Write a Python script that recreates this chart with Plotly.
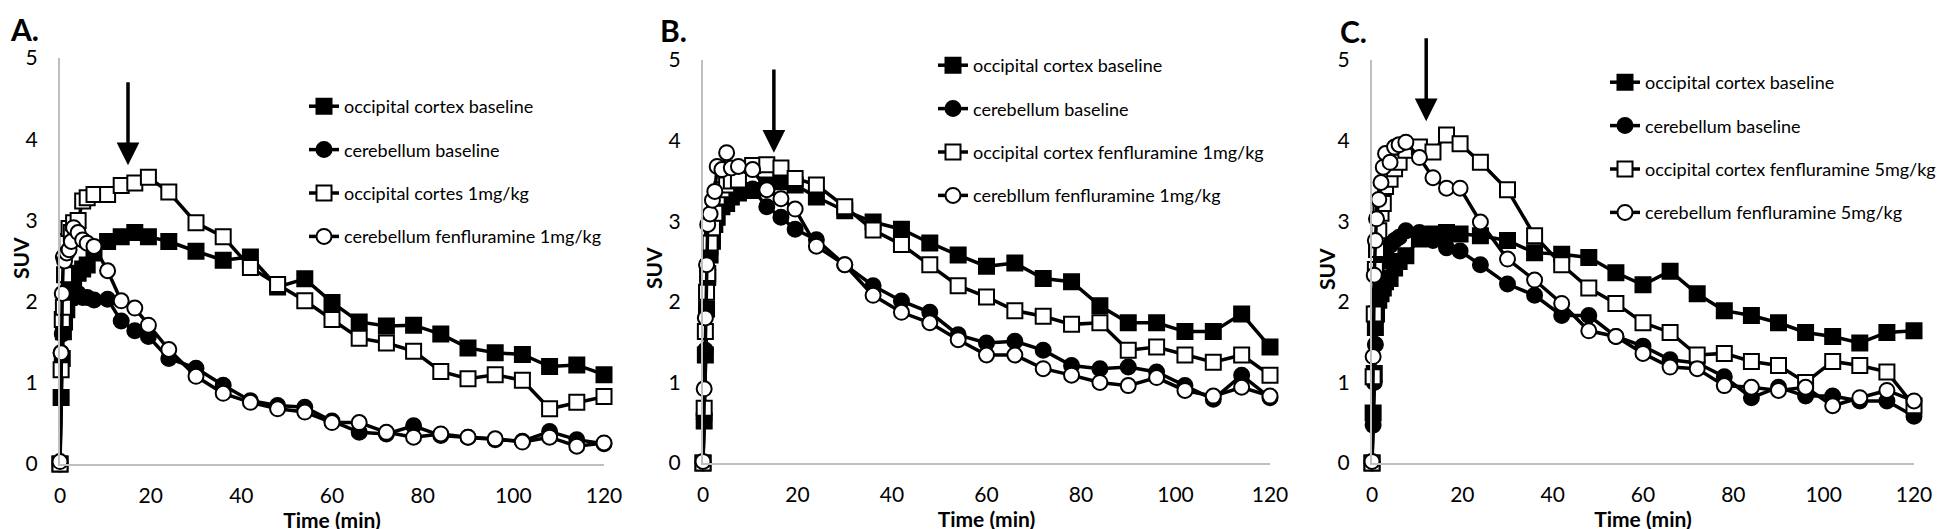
import plotly.graph_objects as go

# frame mid times (min), shared by all three panels
time_min = [0, 0.25, 0.5, 0.75, 1, 1.5, 2, 2.5, 3, 4, 5, 6, 7.5,
            10.5, 13.5, 16.5, 19.5,
            24, 30, 36, 42, 48, 54, 60, 66, 72, 78, 84, 90, 96, 102, 108, 114, 120]

# A. fenfluramine 1 mg/kg
a_occ_base = [0, 0.82, 1.3, 1.63, 1.75, 1.9, 2.05, 2.2, 2.2, 2.35, 2.4, 2.45, 2.6,
              2.74, 2.8, 2.85, 2.8,
              2.74, 2.62, 2.51, 2.55, 2.18, 2.28, 1.99, 1.75, 1.7, 1.71, 1.6, 1.43, 1.37, 1.35, 1.2, 1.22, 1.1]
a_cer_base = [0, 1.37, 1.6, 1.85, 2.0, 2.1, 2.15, 2.1, 2.05, 2.1, 2.05, 2.05, 2.02,
              2.03, 1.76, 1.64, 1.57,
              1.3, 1.18, 0.97, 0.78, 0.72, 0.7, 0.53, 0.39, 0.37, 0.47, 0.35, 0.33, 0.3, 0.28, 0.4, 0.3, 0.25]
a_occ_fen = [0, 1.16, 1.78, 1.93, 2.33, 2.74, 2.9, 2.85, 2.97, 3.0, 3.24, 3.28, 3.32,
             3.32, 3.43, 3.46, 3.53,
             3.35, 2.97, 2.8, 2.42, 2.21, 2.01, 1.78, 1.55, 1.49, 1.39, 1.14, 1.05, 1.1, 1.03, 0.68, 0.76, 0.83]
a_cer_fen = [0.03, 1.37, 2.1, 2.55, 2.5, 2.6, 2.64, 2.74, 2.91, 2.85, 2.76, 2.72, 2.68,
             2.38, 2.01, 1.92, 1.71,
             1.41, 1.08, 0.87, 0.76, 0.68, 0.64, 0.51, 0.51, 0.39, 0.33, 0.37, 0.33, 0.31, 0.27, 0.33, 0.22, 0.26]

# B. fenfluramine 1 mg/kg
b_occ_base = [0, 0.52, 1.34, 1.91, 2.3, 2.58, 2.75, 2.96, 3.05, 3.18, 3.22, 3.3, 3.35,
              3.38, 3.45, 3.49, 3.45,
              3.3, 3.13, 2.99, 2.9, 2.73, 2.58, 2.44, 2.48, 2.29, 2.25, 1.95, 1.74, 1.74, 1.63, 1.63, 1.85, 1.44]
b_cer_base = [0, 0.55, 1.4, 1.9, 2.4, 2.6, 2.75, 2.95, 3.1, 3.2, 3.3, 3.35, 3.38,
              3.4, 3.18, 3.05, 2.9,
              2.77, 2.46, 2.2, 2.01, 1.87, 1.59, 1.49, 1.51, 1.4, 1.21, 1.17, 1.19, 1.13, 0.96, 0.79, 1.09, 0.81]
b_occ_fen = [0, 0.68, 1.63, 2.12, 2.35, 2.73, 2.92, 3.1, 3.3, 3.39, 3.45, 3.5, 3.51,
             3.69, 3.7, 3.66, 3.53,
             3.45, 3.18, 2.89, 2.71, 2.46, 2.2, 2.06, 1.89, 1.82, 1.72, 1.74, 1.4, 1.44, 1.34, 1.25, 1.34, 1.09]
b_cer_fen = [0.02, 0.92, 1.8, 2.46, 2.96, 3.09, 3.26, 3.37, 3.68, 3.64, 3.85, 3.66, 3.68,
             3.64, 3.39, 3.28, 3.15,
             2.69, 2.46, 2.08, 1.87, 1.74, 1.53, 1.34, 1.34, 1.17, 1.09, 1.0, 0.96, 1.06, 0.9, 0.83, 0.94, 0.83]

# C. fenfluramine 5 mg/kg
c_occ_base = [0, 0.62, 1.11, 1.68, 1.85, 2.02, 2.1, 2.17, 2.25, 2.29, 2.42, 2.5, 2.57,
              2.78, 2.84, 2.86, 2.84,
              2.82, 2.76, 2.61, 2.59, 2.55, 2.36, 2.21, 2.38, 2.1, 1.89, 1.83, 1.74, 1.62, 1.57, 1.49, 1.62, 1.64]
c_cer_base = [0, 0.47, 1.0, 1.47, 1.8, 2.1, 2.3, 2.5, 2.6, 2.7, 2.76, 2.8, 2.88,
              2.86, 2.76, 2.67, 2.63,
              2.46, 2.22, 2.08, 1.83, 1.83, 1.57, 1.45, 1.28, 1.24, 1.07, 0.81, 0.94, 0.83, 0.83, 0.77, 0.77, 0.58]
c_occ_fen = [0, 1.07, 1.85, 2.4, 2.65, 2.88, 3.1, 3.22, 3.43, 3.52, 3.65, 3.73, 3.88,
             3.92, 3.86, 4.07, 3.96,
             3.73, 3.39, 2.82, 2.46, 2.17, 1.98, 1.74, 1.62, 1.34, 1.36, 1.26, 1.21, 1.0, 1.26, 1.21, 1.13, 0.71]
c_cer_fen = [0.02, 1.32, 2.33, 2.76, 3.03, 3.27, 3.48, 3.67, 3.84, 3.73, 3.92, 3.95, 3.98,
             3.79, 3.54, 3.41, 3.41,
             2.99, 2.53, 2.27, 1.98, 1.64, 1.57, 1.36, 1.19, 1.17, 0.96, 0.94, 0.9, 0.94, 0.71, 0.81, 0.9, 0.77]

names_a = ['occipital cortex baseline', 'cerebellum baseline',
           'occipital cortes 1mg/kg', 'cerebellum fenfluramine 1mg/kg']
names_b = ['occipital cortex baseline', 'cerebellum baseline',
           'occipital cortex fenfluramine 1mg/kg', 'cerebllum fenfluramine 1mg/kg']
names_c = ['occipital cortex baseline', 'cerebellum baseline',
           'occipital cortex fenfluramine 5mg/kg', 'cerebellum fenfluramine 5mg/kg']

# injection time (arrow) per panel
arrow_time = [15, 15, 12]

FONT = 'Lato'
W, H = 1946, 529


def px(xp):
    return xp / W


def py(yp):
    return 1 - yp / H


# (symbol, fill) for the 4 series
styles = [('square', 'black'), ('circle', 'black'), ('square', 'white'), ('circle', 'white')]

# positions in pixels of the 1946x529 picture
panels = [
    dict(label='A.', names=names_a, series=[a_occ_base, a_cer_base, a_occ_fen, a_cer_fen],
         xpx=(52, 596), ypx=(456, 50), leg=(296, 80), arrow=(3.68, 4.72), lab=(0, 21), suv=(12, 250)),
    dict(label='B.', names=names_b, series=[b_occ_base, b_cer_base, b_occ_fen, b_cer_fen],
         xpx=(695, 1262), ypx=(455, 52), leg=(925, 39), arrow=(3.85, 4.90), lab=(650, 22), suv=(645, 260)),
    dict(label='C.', names=names_c, series=[c_occ_base, c_cer_base, c_occ_fen, c_cer_fen],
         xpx=(1364, 1906), ypx=(455, 52), leg=(1597, 56), arrow=(4.24, 5.29), lab=(1330, 23), suv=(1318, 261)),
]

fig = go.Figure()
annotations = []
layout = {}

for i, p in enumerate(panels):
    n = '' if i == 0 else str(i + 1)
    xa, ya = 'x' + n, 'y' + n
    leg = 'legend' + n
    for j, (vals, name) in enumerate(zip(p['series'], p['names'])):
        sym, fill = styles[j]
        fig.add_trace(go.Scatter(
            x=time_min, y=vals, name=name, mode='lines+markers',
            xaxis=xa, yaxis=ya, legend=leg, legendgroup=f'{i}-{j}',
            line=dict(color='black', width=3.5),
            marker=dict(symbol=sym, size=15, color=fill,
                        line=dict(color='black', width=2)),
            cliponaxis=False,
        ))

    x0, x1 = p['xpx']
    y0, y1 = p['ypx']
    layout['xaxis' + n] = dict(
        domain=[px(x0), px(x1)], range=[0, 120], anchor=ya, automargin=False,
        tickvals=[0, 20, 40, 60, 80, 100, 120], showgrid=False, zeroline=False,
        showline=True, linecolor='#BFBFBF', linewidth=2, ticks='',
        ticklabelstandoff=12, tickfont=dict(family=FONT, size=21, color='black'),
        title=dict(text='<b>Time (min)</b>', font=dict(family=FONT, size=21, color='black'), standoff=2),
    )
    layout['yaxis' + n] = dict(
        domain=[py(y0), py(y1)], range=[0, 5], anchor=xa, automargin=False,
        tickvals=[0, 1, 2, 3, 4, 5], showgrid=False, zeroline=False,
        showline=True, linecolor='#BFBFBF', linewidth=2, ticks='',
        ticklabelstandoff=16, tickfont=dict(family=FONT, size=21, color='black'),
    )
    lx, ly = p['leg']
    layout[leg] = dict(
        x=px(lx), y=py(ly), xanchor='left', yanchor='top',
        font=dict(family=FONT, size=18, color='black'), bgcolor='rgba(0,0,0,0)',
        tracegroupgap=17, itemwidth=30,
    )

    tip, tail = p['arrow']
    annotations.append(dict(
        x=arrow_time[i], y=tip, ax=arrow_time[i], ay=tail, xref=xa, yref=ya,
        axref=xa, ayref=ya, text='', showarrow=True,
        arrowhead=2, arrowsize=1.3, arrowwidth=3.5, arrowcolor='black',
    ))
    # panel letter
    annotations.append(dict(
        x=px(p['lab'][0]), y=py(p['lab'][1]), xref='paper', yref='paper',
        xanchor='left', yanchor='middle', showarrow=False,
        text=f"<b>{p['label']}</b>", font=dict(family=FONT, size=30, color='black'),
    ))
    # y title
    annotations.append(dict(
        x=px(p['suv'][0]), y=py(p['suv'][1]), xref='paper', yref='paper',
        xanchor='center', yanchor='middle', showarrow=False, textangle=-90,
        text='<b>SUV</b>', font=dict(family=FONT, size=21, color='black'),
    ))

fig.update_layout(
    width=W, height=H, autosize=False,
    margin=dict(l=0, r=0, t=0, b=0, pad=0),
    paper_bgcolor='white', plot_bgcolor='white',
    showlegend=True,
    annotations=annotations,
    **layout,
)

fig.write_html("out.html")
